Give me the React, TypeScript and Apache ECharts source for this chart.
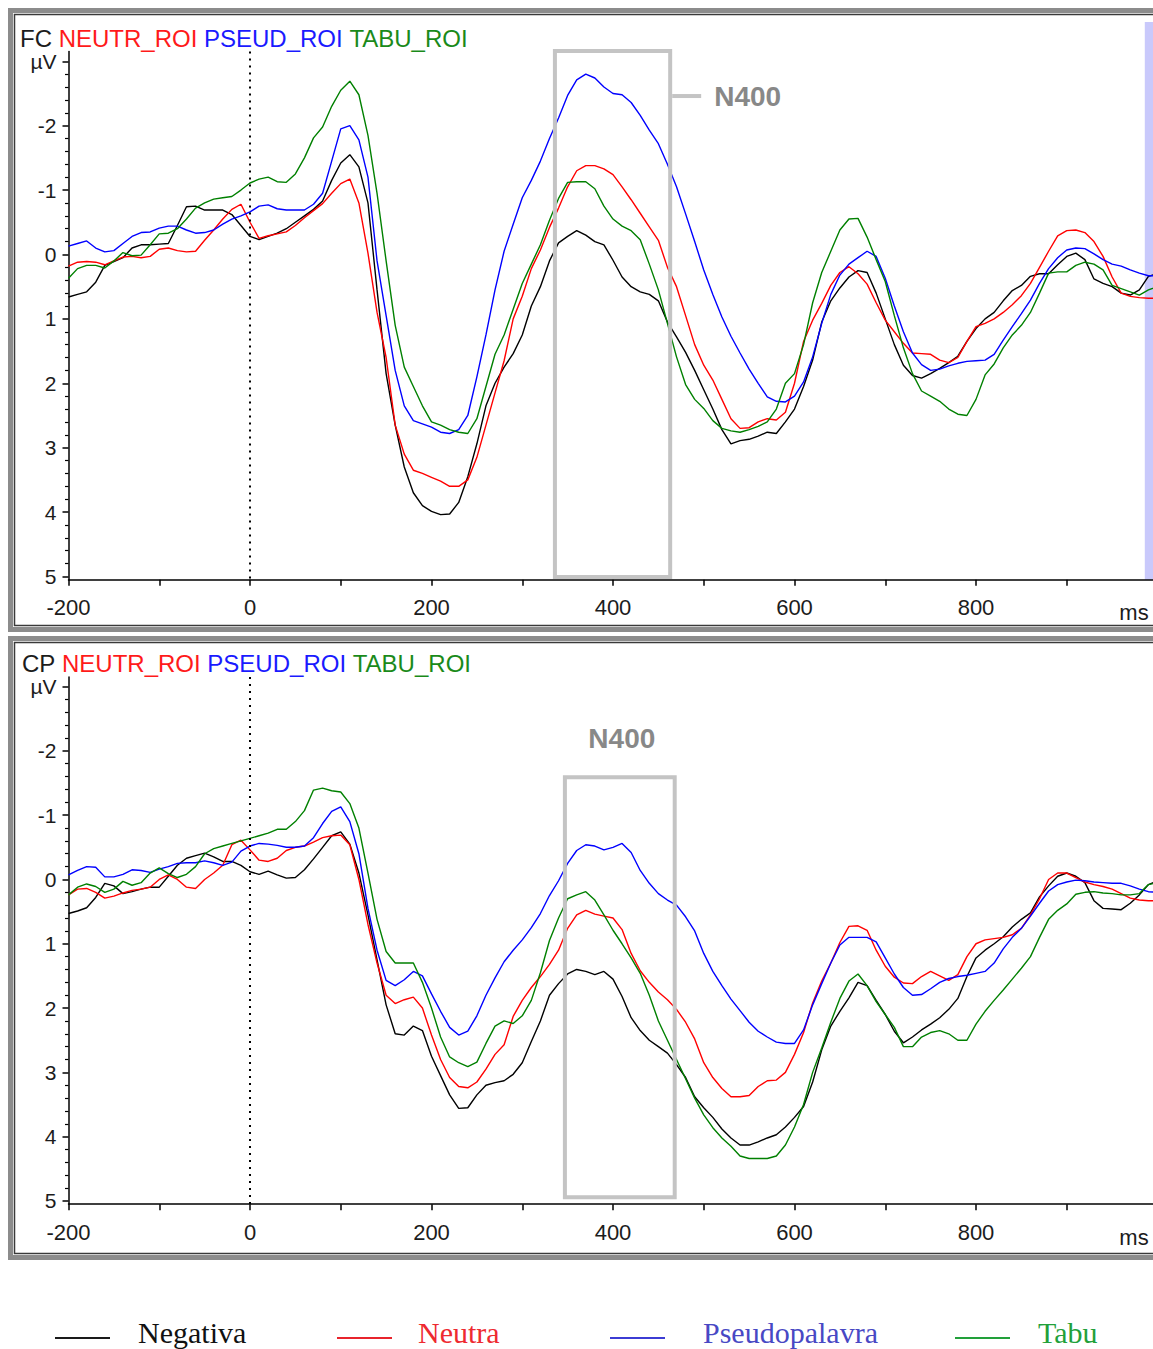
import React, { useEffect, useRef } from "react";
import * as echarts from "echarts";

// ---------- data (ms time base, values in µV; negative plotted upward) ----------
const TIMES = [
  -200, -190, -180, -170, -160, -150, -140, -130, -120, -110,
  -100, -90, -80, -70, -60, -50, -40, -30, -20, -10,
  0, 10, 20, 30, 40, 50, 60, 70, 80, 90,
  100, 110, 120, 130, 140, 150, 160, 170, 180, 190,
  200, 210, 220, 230, 240, 250, 260, 270, 280, 290,
  300, 310, 320, 330, 340, 350, 360, 370, 380, 390,
  400, 410, 420, 430, 440, 450, 460, 470, 480, 490,
  500, 510, 520, 530, 540, 550, 560, 570, 580, 590,
  600, 610, 620, 630, 640, 650, 660, 670, 680, 690,
  700, 710, 720, 730, 740, 750, 760, 770, 780, 790,
  800, 810, 820, 830, 840, 850, 860, 870, 880, 890,
  900, 910, 920, 930, 940, 950, 960, 970, 980, 990,
  1000,
];

const FC_NEGATIVA = [
  0.66, 0.62, 0.58, 0.43, 0.17, 0.11, 0.05, -0.10, -0.15, -0.15,
  -0.16, -0.17, -0.45, -0.74, -0.75, -0.69, -0.69, -0.69, -0.62, -0.45,
  -0.28, -0.23, -0.28, -0.33, -0.40, -0.50, -0.60, -0.70, -0.83, -1.15,
  -1.42, -1.55, -1.36, -0.80, 0.55, 1.85, 2.65, 3.30, 3.70, 3.90,
  3.99, 4.04, 4.03, 3.85, 3.45, 2.94, 2.35, 2.00, 1.75, 1.54,
  1.25, 0.80, 0.50, 0.10, -0.18, -0.28, -0.37, -0.30, -0.20, -0.15,
  0.09, 0.35, 0.50, 0.58, 0.62, 0.72, 1.05, 1.28, 1.52, 1.80,
  2.10, 2.40, 2.72, 2.94, 2.89, 2.87, 2.82, 2.76, 2.78, 2.60,
  2.40, 2.05, 1.64, 1.05, 0.72, 0.52, 0.35, 0.25, 0.28, 0.60,
  1.00, 1.40, 1.72, 1.88, 1.92, 1.85, 1.77, 1.68, 1.58, 1.35,
  1.15, 1.00, 0.90, 0.72, 0.56, 0.48, 0.34, 0.30, 0.30, 0.16,
  0.03, -0.02, 0.08, 0.38, 0.45, 0.50, 0.60, 0.63, 0.55, 0.34,
  0.30,
];

const FC_NEUTRA = [
  0.18, 0.12, 0.11, 0.12, 0.16, 0.10, 0.04, 0.03, 0.05, 0.03,
  -0.08, -0.10, -0.06, -0.04, -0.05, -0.22, -0.38, -0.55, -0.70, -0.78,
  -0.50, -0.25, -0.29, -0.32, -0.35, -0.45, -0.57, -0.68, -0.79, -0.95,
  -1.10, -1.17, -0.80, -0.02, 0.90, 1.60, 2.65, 3.10, 3.35, 3.40,
  3.46, 3.52, 3.60, 3.60, 3.50, 3.15, 2.65, 2.15, 1.65, 1.00,
  0.65, 0.22, -0.07, -0.42, -0.72, -1.05, -1.30, -1.38, -1.38, -1.33,
  -1.24, -1.05, -0.85, -0.64, -0.43, -0.22, 0.20, 0.50, 0.95, 1.40,
  1.72, 1.95, 2.25, 2.55, 2.70, 2.69, 2.60, 2.55, 2.57, 2.45,
  2.00, 1.35, 1.02, 0.76, 0.48, 0.28, 0.19, 0.30, 0.46, 0.75,
  1.02, 1.20, 1.38, 1.53, 1.54, 1.55, 1.64, 1.68, 1.60, 1.35,
  1.12, 1.07, 1.00, 0.90, 0.78, 0.64, 0.45, 0.20, -0.05, -0.29,
  -0.37, -0.38, -0.34, -0.20, 0.03, 0.35, 0.60, 0.65, 0.67, 0.68,
  0.68,
];

const FC_PSEUDOPALAVRA = [
  -0.13, -0.17, -0.21, -0.10, -0.04, -0.06, -0.17, -0.28, -0.34, -0.35,
  -0.41, -0.44, -0.44, -0.38, -0.33, -0.34, -0.38, -0.47, -0.55, -0.60,
  -0.66, -0.75, -0.77, -0.71, -0.69, -0.69, -0.69, -0.78, -0.95, -1.45,
  -1.95, -2.00, -1.78, -1.20, 0.10, 0.95, 1.80, 2.35, 2.58, 2.63,
  2.68, 2.76, 2.78, 2.72, 2.50, 1.90, 1.25, 0.55, -0.05, -0.47,
  -0.88, -1.15, -1.45, -1.80, -2.12, -2.47, -2.71, -2.80, -2.74, -2.60,
  -2.50, -2.48, -2.36, -2.16, -1.93, -1.72, -1.40, -1.05, -0.63, -0.20,
  0.24, 0.62, 0.97, 1.27, 1.53, 1.78, 2.00, 2.21, 2.28, 2.29,
  2.20, 1.98, 1.59, 1.07, 0.62, 0.32, 0.15, 0.05, -0.05, 0.03,
  0.37, 0.80, 1.20, 1.53, 1.71, 1.80, 1.78, 1.73, 1.69, 1.66,
  1.65, 1.64, 1.55, 1.33, 1.12, 0.92, 0.71, 0.45, 0.22, 0.05,
  -0.07, -0.10, -0.09, -0.01, 0.08, 0.15, 0.18, 0.24, 0.29, 0.33,
  0.33,
];

const FC_TABU = [
  0.37, 0.22, 0.17, 0.17, 0.21, 0.10, -0.03, 0.02, 0.01, -0.15,
  -0.32, -0.33, -0.40, -0.55, -0.72, -0.80, -0.86, -0.88, -0.90, -1.00,
  -1.11, -1.17, -1.20, -1.13, -1.12, -1.25, -1.50, -1.81, -1.98, -2.30,
  -2.55, -2.69, -2.48, -1.85, -0.95, 0.10, 1.10, 1.75, 2.05, 2.35,
  2.60, 2.65, 2.72, 2.76, 2.78, 2.55, 2.05, 1.55, 1.25, 0.85,
  0.45, 0.15, -0.15, -0.53, -0.87, -1.12, -1.13, -1.13, -1.02, -0.75,
  -0.55, -0.44, -0.37, -0.23, 0.15, 0.55, 1.07, 1.59, 2.02, 2.25,
  2.39, 2.58, 2.70, 2.74, 2.76, 2.72, 2.67, 2.60, 2.40, 2.00,
  1.85, 1.40, 0.75, 0.28, -0.05, -0.38, -0.55, -0.56, -0.27, 0.08,
  0.42, 0.95, 1.45, 1.85, 2.12, 2.20, 2.28, 2.40, 2.48, 2.50,
  2.25, 1.87, 1.70, 1.45, 1.25, 1.10, 0.90, 0.60, 0.29, 0.27,
  0.27, 0.17, 0.12, 0.15, 0.24, 0.48, 0.53, 0.58, 0.63, 0.55,
  0.50,
];

const CP_NEGATIVA = [
  0.53, 0.49, 0.44, 0.28, 0.06, 0.10, 0.22, 0.19, 0.15, 0.12,
  0.12, -0.05, -0.22, -0.33, -0.37, -0.41, -0.35, -0.28, -0.28, -0.22,
  -0.12, -0.08, -0.13, -0.07, -0.02, -0.03, -0.15, -0.32, -0.50, -0.68,
  -0.74, -0.55, -0.10, 0.55, 1.25, 1.95, 2.40, 2.42, 2.28, 2.35,
  2.75, 3.05, 3.35, 3.56, 3.55, 3.35, 3.20, 3.16, 3.13, 3.03,
  2.85, 2.52, 2.20, 1.80, 1.62, 1.47, 1.40, 1.43, 1.48, 1.43,
  1.55, 1.82, 2.15, 2.35, 2.50, 2.60, 2.70, 2.88, 3.08, 3.38,
  3.55, 3.70, 3.88, 4.02, 4.13, 4.13, 4.08, 4.02, 3.97, 3.85,
  3.70, 3.53, 3.15, 2.65, 2.28, 2.05, 1.84, 1.60, 1.65, 1.88,
  2.10, 2.36, 2.54, 2.45, 2.34, 2.25, 2.15, 2.02, 1.85, 1.51,
  1.22, 1.10, 1.00, 0.89, 0.74, 0.62, 0.52, 0.27, 0.10, -0.05,
  -0.10, -0.05, 0.05, 0.33, 0.45, 0.46, 0.47, 0.37, 0.24, 0.08,
  0.02,
];

const CP_NEUTRA = [
  0.24, 0.15, 0.14, 0.20, 0.29, 0.26, 0.21, 0.17, 0.15, 0.12,
  0.00, -0.07, 0.00, 0.12, 0.14, 0.00, -0.10, -0.22, -0.54, -0.61,
  -0.46, -0.30, -0.28, -0.33, -0.45, -0.50, -0.52, -0.58, -0.65, -0.68,
  -0.69, -0.54, 0.00, 0.70, 1.30, 1.80, 1.93, 1.87, 1.83, 2.00,
  2.42, 2.80, 3.08, 3.22, 3.24, 3.15, 2.95, 2.72, 2.57, 2.13,
  1.88, 1.68, 1.51, 1.32, 1.10, 0.76, 0.55, 0.48, 0.54, 0.57,
  0.60, 0.78, 1.15, 1.42, 1.60, 1.75, 1.87, 2.02, 2.22, 2.48,
  2.85, 3.08, 3.25, 3.38, 3.38, 3.36, 3.22, 3.13, 3.12, 3.00,
  2.72, 2.38, 1.92, 1.58, 1.30, 0.98, 0.73, 0.72, 0.79, 1.10,
  1.35, 1.52, 1.61, 1.62, 1.51, 1.43, 1.50, 1.57, 1.48, 1.20,
  1.00, 0.94, 0.92, 0.90, 0.86, 0.76, 0.55, 0.30, 0.00, -0.10,
  -0.10, -0.03, 0.04, 0.08, 0.11, 0.15, 0.22, 0.29, 0.32, 0.33,
  0.33,
];

const CP_PSEUDOPALAVRA = [
  -0.07, -0.14, -0.20, -0.19, -0.04, -0.04, -0.08, -0.15, -0.14, -0.11,
  -0.16, -0.20, -0.25, -0.26, -0.26, -0.29, -0.26, -0.22, -0.27, -0.44,
  -0.52, -0.56, -0.55, -0.53, -0.50, -0.50, -0.52, -0.65, -0.87, -1.06,
  -1.13, -0.90, -0.40, 0.45, 1.10, 1.57, 1.65, 1.56, 1.43, 1.50,
  1.78, 2.05, 2.30, 2.42, 2.36, 2.12, 1.80, 1.53, 1.28, 1.10,
  0.94, 0.75, 0.53, 0.25, 0.02, -0.25, -0.45, -0.54, -0.52, -0.46,
  -0.50, -0.56, -0.42, -0.14, 0.06, 0.22, 0.32, 0.40, 0.58, 0.80,
  1.15, 1.43, 1.65, 1.86, 2.04, 2.22, 2.36, 2.45, 2.53, 2.55,
  2.55, 2.34, 1.95, 1.62, 1.30, 1.02, 0.90, 0.90, 0.90, 0.97,
  1.22, 1.47, 1.68, 1.80, 1.79, 1.70, 1.60, 1.54, 1.51, 1.49,
  1.46, 1.43, 1.30, 1.08, 0.90, 0.76, 0.57, 0.37, 0.18, 0.08,
  0.04, 0.01, 0.02, 0.04, 0.05, 0.06, 0.06, 0.10, 0.15, 0.19,
  0.20,
];

const CP_TABU = [
  0.24, 0.12, 0.07, 0.11, 0.20, 0.15, 0.03, 0.09, 0.05, -0.10,
  -0.18, -0.09, -0.03, -0.08, -0.20, -0.40, -0.48, -0.52, -0.56, -0.60,
  -0.64, -0.68, -0.72, -0.78, -0.78, -0.90, -1.07, -1.39, -1.42, -1.38,
  -1.36, -1.18, -0.80, -0.10, 0.62, 1.12, 1.30, 1.30, 1.30, 1.60,
  2.00, 2.45, 2.76, 2.85, 2.91, 2.84, 2.55, 2.28, 2.20, 2.24,
  2.12, 1.88, 1.45, 0.95, 0.60, 0.30, 0.24, 0.19, 0.32, 0.55,
  0.79, 1.00, 1.22, 1.46, 1.80, 2.20, 2.50, 2.80, 3.10, 3.40,
  3.66, 3.86, 4.02, 4.15, 4.30, 4.34, 4.34, 4.34, 4.30, 4.13,
  3.85, 3.50, 3.00, 2.62, 2.22, 1.85, 1.58, 1.47, 1.65, 1.90,
  2.10, 2.30, 2.60, 2.60, 2.45, 2.38, 2.35, 2.40, 2.50, 2.50,
  2.25, 2.05, 1.88, 1.72, 1.55, 1.38, 1.20, 0.90, 0.62, 0.48,
  0.38, 0.23, 0.20, 0.19, 0.21, 0.22, 0.24, 0.24, 0.22, 0.08,
  0.05,
];

const SERIES_NAMES = ["Negativa", "Neutra", "Pseudopalavra", "Tabu"];
const PANEL_CODES = ["FC", "CP"];
const ROI_LABELS = ["NEUTR_ROI", "PSEUD_ROI", "TABU_ROI"];
const PANEL_SERIES = [
  [FC_NEGATIVA, FC_NEUTRA, FC_PSEUDOPALAVRA, FC_TABU],
  [CP_NEGATIVA, CP_NEUTRA, CP_PSEUDOPALAVRA, CP_TABU],
];
const X_LABELS = [-200, 0, 200, 400, 600, 800];
const Y_MAJOR = [-3, -2, -1, 0, 1, 2, 3, 4, 5];
const Y_MINOR = [
  -2.8, -2.6, -2.4, -2.2, -1.8, -1.6, -1.4, -1.2, -0.8, -0.6, -0.4, -0.2,
  0.2, 0.4, 0.6, 0.8, 1.2, 1.4, 1.6, 1.8, 2.2, 2.4, 2.6, 2.8,
  3.2, 3.4, 3.6, 3.8, 4.2, 4.4, 4.6, 4.8,
];
// N400 windows (ms, µV) for each panel
const N400_BOXES = [
  { x0: 336, x1: 463, y0: -3.16, y1: 5.01 },
  { x0: 347, x1: 468, y0: -1.59, y1: 4.94 },
];
// cursor band at the right of the FC panel
const FC_CURSOR_BAND = { from: 986, to: 1000, top: -3.61, bottom: 5.05 };

// ---------- styling ----------
const LINE_COLORS = ["#000000", "#ff0000", "#0000ff", "#008000"];
const ROI_COLORS = ["#ff1a1a", "#1a1aff", "#1a8a1a"];
const LEGEND_LINE_COLORS = ["#1a1a1a", "#e8242c", "#3c3cd4", "#22a03a"];
const LEGEND_TEXT_COLORS = ["#111111", "#ee2a30", "#4848c4", "#22a03a"];
const SANS = '"Liberation Sans", Arial, sans-serif';
const SERIF = '"Liberation Serif", "Times New Roman", serif';

const GRID_LEFT = 68.5;
const GRID_WIDTH = 1089;
const GRIDS = [
  { top: 51.6, height: 528.1 },
  { top: 676.9, height: 527.3 },
];
const Y_MIN = -3.15;
const Y_MAX = 5.05;

function buildOption() {
  const grid = GRIDS.map((g) => ({
    left: GRID_LEFT,
    top: g.top,
    width: GRID_WIDTH,
    height: g.height,
    containLabel: false,
    outerBoundsMode: "none",
  }));
  const xAxis = GRIDS.map((_, i) => ({
    type: "value",
    gridIndex: i,
    min: -200,
    max: 1000,
    interval: 100,
    axisLine: { show: true, onZero: false, lineStyle: { color: "#000", width: 1.5 } },
    axisTick: { show: true, inside: false, length: 6, lineStyle: { color: "#000", width: 1.5 } },
    axisLabel: {
      customValues: X_LABELS,
      margin: 17,
      fontSize: 22,
      fontFamily: SANS,
      color: "#1c1c1c",
    },
    splitLine: { show: false },
  }));
  const yAxis: any[] = [];
  GRIDS.forEach((_, i) => {
    yAxis.push({
      type: "value",
      gridIndex: i,
      position: "left",
      inverse: true,
      min: Y_MIN,
      max: Y_MAX,
      axisLine: { show: true, onZero: false, lineStyle: { color: "#000", width: 1.5 } },
      axisTick: { show: true, customValues: Y_MAJOR, length: 6, lineStyle: { color: "#000", width: 1.5 } },
      axisLabel: {
        customValues: Y_MAJOR,
        formatter: (v: number) => (v === -3 ? "µV" : String(v)),
        margin: 12,
        fontSize: 21,
        fontFamily: SANS,
        color: "#1c1c1c",
      },
      splitLine: { show: false },
    });
    yAxis.push({
      type: "value",
      gridIndex: i,
      position: "left",
      offset: 0,
      inverse: true,
      min: Y_MIN,
      max: Y_MAX,
      axisLine: { show: false, onZero: false },
      axisTick: { show: true, customValues: Y_MINOR, length: 3.5, lineStyle: { color: "#000", width: 1.2 } },
      axisLabel: { show: false },
      splitLine: { show: false },
    });
  });
  const series: any[] = [];
  PANEL_SERIES.forEach((set, i) => {
    set.forEach((vals, k) => {
      series.push({
        type: "line",
        name: SERIES_NAMES[k],
        xAxisIndex: i,
        yAxisIndex: 2 * i,
        data: TIMES.map((t, j) => [t, vals[j]]),
        showSymbol: false,
        symbol: "none",
        z: 3,
        lineStyle: { color: LINE_COLORS[k], width: 1.4 },
        itemStyle: { color: LINE_COLORS[k] },
        markLine:
          k === 0
            ? {
                silent: true,
                symbol: "none",
                label: { show: false },
                lineStyle: { color: "#000", type: [2, 5], width: 2 },
                data: [{ xAxis: 0 }],
              }
            : undefined,
      });
    });
  });
  return {
    animation: false,
    backgroundColor: "#ffffff",
    grid,
    xAxis,
    yAxis,
    series,
  };
}

export default function App() {
  const ref = useRef<HTMLDivElement>(null);
  useEffect(() => {
    const el = ref.current;
    if (!el) return;
    const chart = echarts.init(el, null, { renderer: "svg" });
    chart.setOption(buildOption() as any);

    const px = (i: number, x: number, y: number) =>
      chart.convertToPixel({ xAxisIndex: i, yAxisIndex: 2 * i } as any, [x, y]) as number[];

    const g: any[] = [];
    // panel frames
    const frameTops = [10.5, 638.5];
    frameTops.forEach((t) => {
      g.push({
        type: "rect",
        z: 1,
        shape: { x: 10.5, y: t, width: 1160, height: 619 },
        style: { fill: "none", stroke: "#8c8c8c", lineWidth: 5 },
      });
      g.push({
        type: "rect",
        z: 1,
        shape: { x: 14.5, y: t + 4, width: 1150, height: 611 },
        style: { fill: "none", stroke: "#3a3a3a", lineWidth: 1.5 },
      });
    });

    // cursor band (FC)
    {
      const [bx0, by0] = px(0, FC_CURSOR_BAND.from, FC_CURSOR_BAND.top);
      const [bx1, by1] = px(0, FC_CURSOR_BAND.to, FC_CURSOR_BAND.bottom);
      g.push({
        type: "rect",
        z: 0,
        shape: { x: bx0, y: by0, width: bx1 - bx0, height: by1 - by0 },
        style: { fill: "#c9c9fb" },
      });
    }

    // panel titles
    const titleY = [38, 663];
    const titleX = [20, 22];
    PANEL_CODES.forEach((code, i) => {
      g.push({
        type: "text",
        z: 5,
        x: titleX[i],
        y: titleY[i],
        style: {
          text: `{k|${code}} {r|${ROI_LABELS[0]}} {b|${ROI_LABELS[1]}} {g|${ROI_LABELS[2]}}`,
          fontSize: 24,
          fontFamily: SANS,
          textVerticalAlign: "middle",
          verticalAlign: "middle",
          rich: {
            k: { fill: "#1c1c1c", color: "#1c1c1c", fontSize: 24, fontFamily: SANS },
            r: { fill: ROI_COLORS[0], color: ROI_COLORS[0], fontSize: 24, fontFamily: SANS },
            b: { fill: ROI_COLORS[1], color: ROI_COLORS[1], fontSize: 24, fontFamily: SANS },
            g: { fill: ROI_COLORS[2], color: ROI_COLORS[2], fontSize: 24, fontFamily: SANS },
          },
        },
      });
      // "ms" axis unit
      const axisY = px(i, 0, Y_MAX)[1];
      g.push({
        type: "text",
        z: 5,
        x: 1134,
        y: axisY + 33,
        style: {
          text: "ms",
          fill: "#1c1c1c",
          fontSize: 22,
          fontFamily: SANS,
          textAlign: "center",
          textVerticalAlign: "middle",
          align: "center",
          verticalAlign: "middle",
        },
      });
    });

    // N400 boxes
    N400_BOXES.forEach((b, i) => {
      const [x0, y0] = px(i, b.x0, b.y0);
      const [x1, y1] = px(i, b.x1, b.y1);
      g.push({
        type: "rect",
        z: 10,
        shape: { x: x0, y: y0, width: x1 - x0, height: y1 - y0 },
        style: { fill: "none", stroke: "#c4c4c4", lineWidth: 4 },
      });
      if (i === 0) {
        const tagY = px(0, 0, -2.46)[1];
        g.push({
          type: "line",
          z: 10,
          shape: { x1: x1 + 2, y1: tagY, x2: x1 + 31, y2: tagY },
          style: { stroke: "#c4c4c4", lineWidth: 4 },
        });
        g.push({
          type: "text",
          z: 10,
          x: x1 + 44,
          y: tagY,
          style: {
            text: "N400",
            fill: "#888888",
            fontSize: 28,
            fontWeight: "bold",
            fontFamily: SANS,
            textAlign: "left",
            textVerticalAlign: "middle",
            align: "left",
            verticalAlign: "middle",
          },
        });
      } else {
        g.push({
          type: "text",
          z: 10,
          x: (x0 + x1) / 2 + 2,
          y: y0 - 39,
          style: {
            text: "N400",
            fill: "#888888",
            fontSize: 28,
            fontWeight: "bold",
            fontFamily: SANS,
            textAlign: "center",
            textVerticalAlign: "middle",
            align: "center",
            verticalAlign: "middle",
          },
        });
      }
    });

    // legend
    const legendLineX = [55, 337, 610, 955];
    const legendTextX = [138, 418, 703, 1038];
    SERIES_NAMES.forEach((name, k) => {
      g.push({
        type: "line",
        z: 5,
        shape: { x1: legendLineX[k], y1: 1338, x2: legendLineX[k] + 55, y2: 1338 },
        style: { stroke: LEGEND_LINE_COLORS[k], lineWidth: 2 },
      });
      g.push({
        type: "text",
        z: 5,
        x: legendTextX[k],
        y: 1332,
        style: {
          text: name,
          fill: LEGEND_TEXT_COLORS[k],
          fontSize: 30,
          fontFamily: SERIF,
          textAlign: "left",
          textVerticalAlign: "middle",
          align: "left",
          verticalAlign: "middle",
        },
      });
    });

    chart.setOption({ graphic: g } as any);
    return () => chart.dispose();
  }, []);

  return (
    <div
      ref={ref}
      style={{
        position: "absolute",
        left: 0,
        top: 0,
        width: 1153,
        height: 1349,
        background: "#ffffff",
        overflow: "hidden",
      }}
    />
  );
}
